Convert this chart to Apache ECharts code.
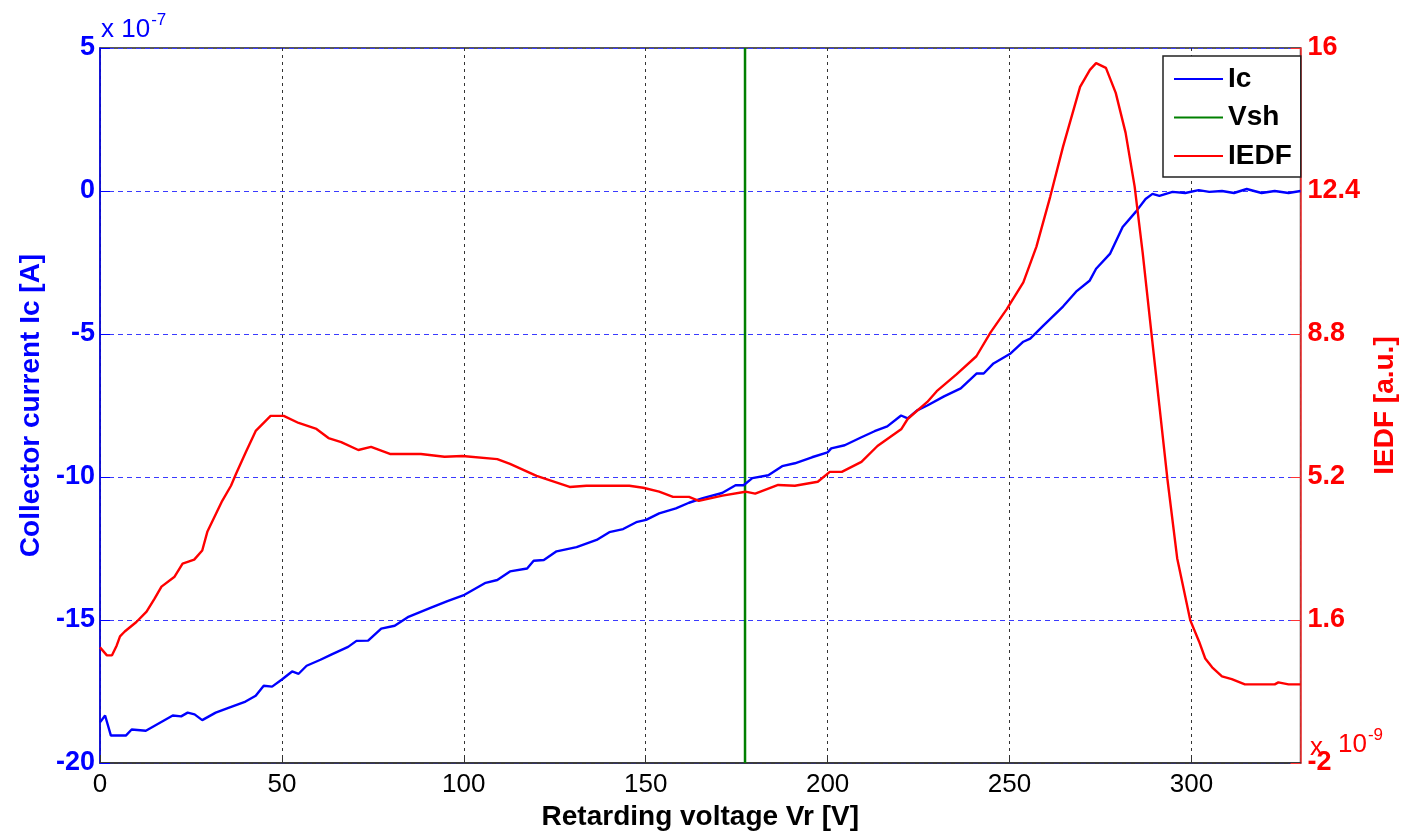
<!DOCTYPE html>
<html>
<head>
<meta charset="utf-8">
<script src="https://cdn.jsdelivr.net/npm/echarts@6/dist/echarts.min.js"></script>
<style>
  html, body { margin: 0; padding: 0; background: #fff; }
  #chart { width: 1407px; height: 836px; }
</style>
</head>
<body>
<div id="chart"></div>
<script>
// Retarding voltage (V) for the collector current trace
const icVolt = [0,1.4,3,7.1,8.7,12.6,20,22.3,24.1,26,28.1,31.8,35.5,40,42.8,45,47.3,50,52.8,54.6,
  56.8,60.6,63.7,68.2,70.5,73.7,77.3,81,84.6,91,95.5,100.2,106,109.2,112.7,117.4,119.2,122,125.5,131,
  136.5,140,143.8,147.4,150.1,153.7,158.3,161.9,165.7,171,174.7,176.9,179.3,183.7,187.5,191,195.7,200,201,204.7,
  209.3,212.9,216.4,220.2,222,224.6,227.4,232,236.6,241,242.9,245.6,250.3,253.8,255.7,259.3,264.7,268.3,272,273.8,
  277.6,281.1,284.7,287.4,289.3,291.2,294.8,298.3,302,304.9,308.4,311.7,315.2,319.3,322.9,326.7,330]
// collector current, x 1e-7 A
const icVals = [-18.58,-18.34,-19.04,-19.04,-18.83,-18.87,-18.34,-18.37,-18.24,-18.3,-18.5,-18.24,-18.06,-17.85,-17.65,-17.3,-17.33,-17.08,-16.8,-16.88,
  -16.6,-16.39,-16.2,-15.94,-15.73,-15.72,-15.3,-15.2,-14.9,-14.57,-14.34,-14.12,-13.7,-13.6,-13.3,-13.2,-12.93,-12.9,-12.6,-12.45,
  -12.2,-11.93,-11.82,-11.58,-11.5,-11.27,-11.1,-10.9,-10.74,-10.56,-10.29,-10.29,-10.04,-9.94,-9.62,-9.52,-9.31,-9.14,-9.0,-8.89,
  -8.61,-8.4,-8.23,-7.85,-7.95,-7.67,-7.5,-7.18,-6.9,-6.38,-6.38,-6.03,-5.68,-5.27,-5.16,-4.71,-4.04,-3.52,-3.14,-2.72,
  -2.2,-1.26,-0.73,-0.28,-0.1,-0.17,-0.03,-0.07,0.03,-0.03,0,-0.07,0.07,-0.07,0,-0.07,0]

// IEDF trace
const iedfVolt = [0,1.9,3.3,4.6,5.5,6.8,10,12.8,15,16.9,20.5,22.7,25.9,28.1,29.5,33.6,36,37.4,40.1,42.8,
  46.9,50.5,54.6,59.5,62.8,66.3,71,74.5,79.7,88.2,94.7,99.6,109.2,112.7,120,129.1,133.7,145.5,149.3,153.7,
  157.5,161.9,164.6,171.1,177.4,180.1,186.4,191,197.3,200.6,203.9,209.3,213.7,220.3,222,227.4,230,235.5,240.9,244.8,
  249.2,253.8,257.4,261.2,264.7,269.4,272.1,273.8,276.5,279.2,281.9,284.4,286.6,288.8,291.2,293.4,296.1,299.7,302.1,303.8,
  305.7,308.4,311.1,314.7,322.9,323.9,326.7,330]
// x 1e-9 a.u.
const iedfVals = [0.91,0.71,0.71,0.96,1.19,1.31,1.55,1.81,2.14,2.44,2.69,3.02,3.12,3.35,3.82,4.6,4.98,5.28,5.83,6.36,
  6.74,6.74,6.56,6.41,6.18,6.08,5.88,5.96,5.78,5.78,5.71,5.73,5.65,5.53,5.23,4.95,4.98,4.98,4.93,4.83,
  4.7,4.7,4.6,4.73,4.83,4.78,5.0,4.98,5.08,5.33,5.33,5.58,5.98,6.41,6.66,7.09,7.36,7.79,8.24,8.84,
  9.42,10.1,11.0,12.26,13.51,15.02,15.45,15.62,15.5,14.87,13.87,12.51,10.85,9.0,6.99,5.15,3.15,1.59,1.06,0.63,
  0.41,0.18,0.11,-0.02,-0.02,0.03,-0.02,-0.02]

// sheath voltage
const vsh = 177.3
const vshSpan = [-20, 5]

const zip = (xs, ys) => xs.map((x, i) => [x, ys[i]])

const chart = echarts.init(document.getElementById('chart'))
const font = 'Arial, "Liberation Sans", Helvetica, sans-serif'

const option = {
  animation: false,
  backgroundColor: '#fff',
  textStyle: { fontFamily: font },
  grid: { left: 100, right: 98, top: 48, bottom: 71, show: true, borderColor: '#222', borderWidth: 1.5, containLabel: false },
  legend: {
    orient: 'vertical',
    left: 1163, top: 56,
    padding: [9, 9, 7, 11],
    itemGap: 10.5,
    itemWidth: 49, itemHeight: 2,
    icon: 'rect',
    backgroundColor: '#fff',
    borderColor: '#222', borderWidth: 1.5, borderRadius: 0,
    textStyle: { fontFamily: font, fontSize: 28, lineHeight: 28, fontWeight: 'bold', color: '#000' },
    data: ['Ic', 'Vsh', 'IEDF']
  },
  xAxis: {
    type: 'value', min: 0, max: 330, interval: 50,
    name: 'Retarding voltage Vr [V]', nameLocation: 'middle', nameGap: 40,
    nameTextStyle: { fontFamily: font, fontSize: 28, fontWeight: 'bold', color: '#000' },
    axisLine: { onZero: false, lineStyle: { color: '#333', width: 1.5 } },
    axisTick: { inside: true, length: 8, lineStyle: { color: '#333' } },
    axisLabel: { fontSize: 26, color: '#000', margin: 9, showMaxLabel: false },
    splitLine: { lineStyle: { color: '#333', type: [3, 4], width: 1 } }
  },
  yAxis: [{
    type: 'value', min: -20, max: 5, interval: 5, position: 'left',
    name: 'Collector current Ic [A]', nameLocation: 'middle', nameGap: 52,
    nameTextStyle: { fontFamily: font, fontSize: 28, fontWeight: 'bold', color: '#0000ff' },
    axisLine: { show: true, onZero: false, lineStyle: { color: '#0000ff', width: 1.5 } },
    axisTick: { show: true, inside: true, length: 10, lineStyle: { color: '#0000ff' } },
    axisLabel: { fontSize: 27, fontWeight: 'bold', color: '#0000ff', margin: 5 },
    splitLine: { lineStyle: { color: '#3a3aff', type: [5, 4], width: 1 } }
  }, {
    type: 'value', min: -2, max: 16, interval: 3.6, position: 'right',
    name: 'IEDF [a.u.]', nameLocation: 'middle', nameGap: 66,
    nameTextStyle: { fontFamily: font, fontSize: 28, fontWeight: 'bold', color: '#ff0000' },
    axisLine: { show: true, onZero: false, lineStyle: { color: '#ff3333', width: 1.5 } },
    axisTick: { show: true, inside: true, length: 10, lineStyle: { color: '#ff3333' } },
    axisLabel: { fontSize: 27, fontWeight: 'bold', color: '#ff0000', margin: 7,
      formatter: v => String(Number(v.toFixed(1))) },
    splitLine: { show: false, lineStyle: { opacity: 0 } }
  }],
  graphic: [{
    type: 'text', left: 101, top: 12,
    style: {
      text: '{a|x 10}{s|-7}', fill: '#0000ff',
      rich: {
        a: { fontFamily: font, fontSize: 26, fill: '#0000ff', lineHeight: 34 },
        s: { fontFamily: font, fontSize: 17, fill: '#0000ff', lineHeight: 34, padding: [0, 0, 18, 1] }
      }
    }
  }, {
    type: 'text', left: 1310, top: 727,
    style: {
      text: '{x|x}{a|10}{s|-9}', fill: '#ff0000',
      rich: {
        x: { fontFamily: font, fontSize: 26, fill: '#ff0000', lineHeight: 34, padding: [6, 15, 0, 0] },
        a: { fontFamily: font, fontSize: 26, fill: '#ff0000', lineHeight: 34 },
        s: { fontFamily: font, fontSize: 17, fill: '#ff0000', lineHeight: 34, padding: [0, 0, 18, 1] }
      }
    }
  }],
  series: [{
    name: 'Ic', type: 'line', yAxisIndex: 0, symbol: 'none',
    lineStyle: { color: '#0000ff', width: 2.4 }, itemStyle: { color: '#0000ff' },
    data: zip(icVolt, icVals), z: 3
  }, {
    name: 'Vsh', type: 'line', yAxisIndex: 0, symbol: 'none',
    lineStyle: { color: '#008000', width: 2.5 }, itemStyle: { color: '#008000' },
    data: vshSpan.map(v => [vsh, v]), z: 2
  }, {
    name: 'IEDF', type: 'line', yAxisIndex: 1, symbol: 'none',
    lineStyle: { color: '#ff0000', width: 2.4 }, itemStyle: { color: '#ff0000' },
    data: zip(iedfVolt, iedfVals), z: 4
  }]
}

chart.setOption(option)
</script>
</body>
</html>
